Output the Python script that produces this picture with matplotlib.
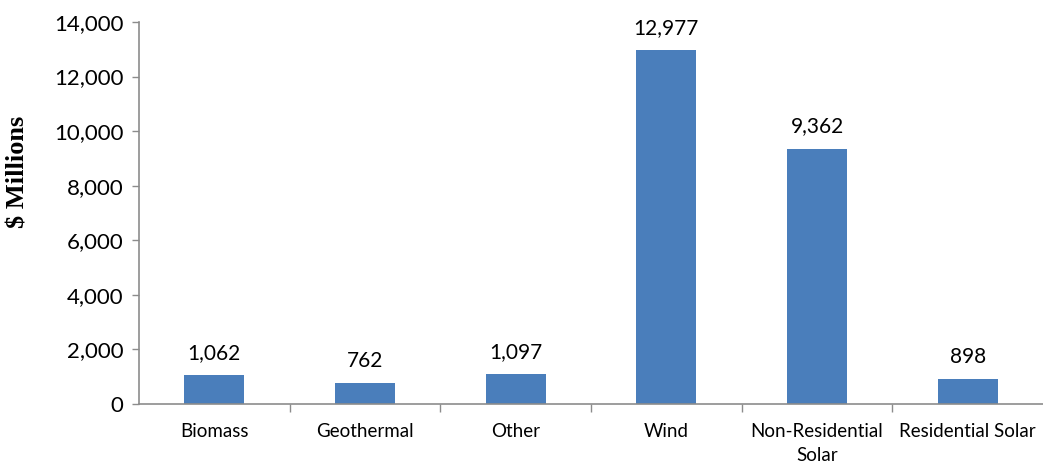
import matplotlib.pyplot as plt
import numpy as np

# data
categories = ["Biomass", "Geothermal", "Other", "Wind", "Non-Residential\nSolar", "Residential Solar"]
values = [1062, 762, 1097, 12977, 9362, 898]
y_ticks = [0, 2000, 4000, 6000, 8000, 10000, 12000, 14000]

bar_color = "#4a7ebb"
axis_color = "#8c8c8c"

fig = plt.figure(figsize=(10.43, 4.66), dpi=100)
ax = fig.add_axes([139 / 1043, 1 - 404 / 466, 1 - 139 / 1043, (404 - 22) / 466])

x = np.arange(len(categories))
ax.bar(x, values, width=0.4, color=bar_color, zorder=2)

# value labels above bars
for xi, v in zip(x, values):
    ax.text(xi, v + 450, f"{v:,}", ha="center", va="bottom", fontsize=15, family="Lato")

ax.set_xlim(-0.5, len(categories) - 0.5)
ax.set_ylim(0, 14000)
ax.set_yticks(y_ticks)
ax.set_yticklabels([f"{t:,}" for t in y_ticks], fontsize=16, family="Lato")

# category labels centred, tick marks at boundaries
ax.set_xticks(x)
ax.set_xticklabels(categories, fontsize=13.5, family="Lato", linespacing=1.45)
ax.tick_params(axis="x", length=0, pad=14)
ax.set_xticks(np.arange(0.5, len(categories) - 1, 1), minor=True)
ax.tick_params(axis="x", which="minor", length=6, color=axis_color, width=1)
ax.tick_params(axis="y", length=5, color=axis_color, width=1, pad=6)

for s in ["top", "right"]:
    ax.spines[s].set_visible(False)
for s in ["left", "bottom"]:
    ax.spines[s].set_color(axis_color)
    ax.spines[s].set_linewidth(1.2)

ax.set_ylabel("$ Millions", fontsize=19, fontweight="bold", family="Liberation Serif")
ax.yaxis.set_label_coords(-0.121, 0.607)

fig.savefig("out.png", dpi=100)
